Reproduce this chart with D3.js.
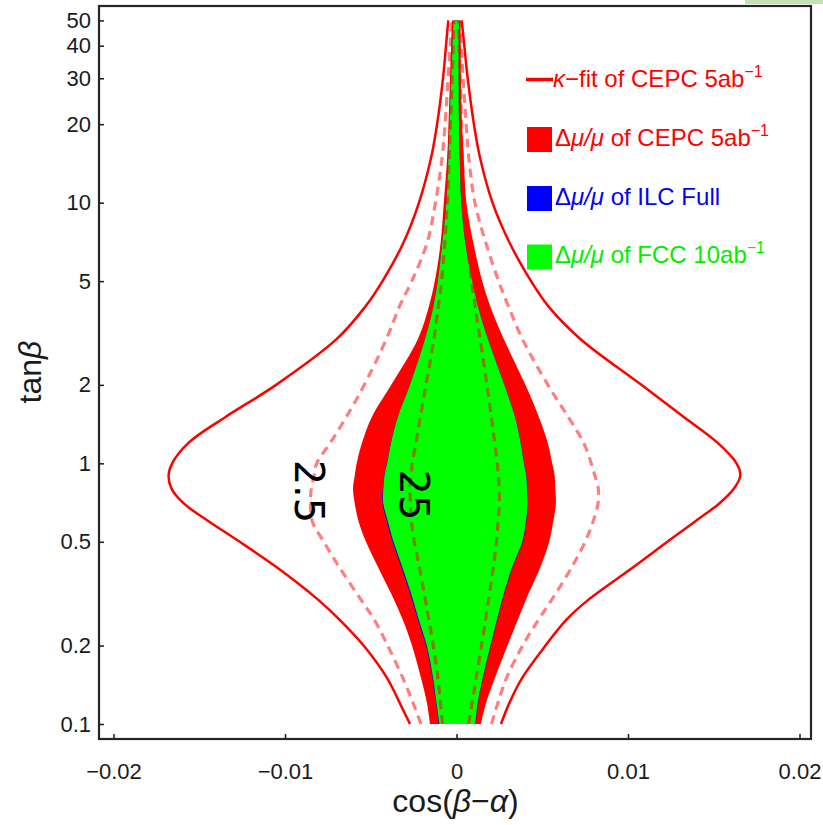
<!DOCTYPE html>
<html>
<head>
<meta charset="utf-8">
<script src="https://cdn.jsdelivr.net/npm/d3@7"></script>
<style>
  html, body { margin: 0; padding: 0; background: #ffffff; }
  svg { display: block; }
</style>
</head>
<body>
<div id="chart"></div>
<script>
// ---------------- data ----------------
const tanb = [0.1, 0.12, 0.15, 0.2, 0.25, 0.3, 0.4, 0.5, 0.6, 0.7, 0.8, 0.9, 1, 1.2, 1.5, 2, 3, 4, 5, 7, 10, 15, 20, 30, 40, 50];

// kappa-fit of CEPC 5ab^-1 (outer solid contour)
const kfitLeft  = [-0.002711,-0.003300,-0.004047,-0.005417,-0.006781,-0.008076,-0.010501,-0.012641,-0.014455,-0.015889,-0.016618,-0.016787,-0.016577,-0.015615,-0.013510,-0.010519,-0.006980,-0.005306,-0.004315,-0.003102,-0.002187,-0.001469,-0.001131,-0.000787,-0.000612,-0.000478];
const kfitRight = [0.002595,0.003073,0.003819,0.005190,0.006373,0.007697,0.010321,0.012292,0.013930,0.015306,0.016181,0.016548,0.016327,0.015213,0.013289,0.010781,0.007219,0.005359,0.004344,0.003102,0.002099,0.001359,0.001015,0.000653,0.000455,0.000303];

// dashed contour labelled "2.5"
const k2p5Left  = [-0.002070,-0.002525,-0.003125,-0.004012,-0.004776,-0.005574,-0.006840,-0.007738,-0.008414,-0.008513,-0.008466,-0.008297,-0.008152,-0.007353,-0.006443,-0.005376,-0.004087,-0.003324,-0.002606,-0.001720,-0.001224,-0.000834,-0.000665,-0.000490,-0.000367,-0.000268];
const k2p5Right = [0.002041,0.002402,0.002915,0.003860,0.004758,0.005557,0.006723,0.007499,0.007971,0.008245,0.008268,0.008064,0.007854,0.007411,0.006531,0.005329,0.003837,0.003032,0.002455,0.001714,0.001073,0.000711,0.000566,0.000385,0.000280,0.000198];

// dashed contour labelled "25"
const k25Left  = [-0.000810,-0.000933,-0.001085,-0.001353,-0.001603,-0.001819,-0.002163,-0.002461,-0.002624,-0.002682,-0.002706,-0.002647,-0.002577,-0.002367,-0.002111,-0.001778,-0.001312,-0.001055,-0.000875,-0.000682,-0.000536,-0.000426,-0.000350,-0.000251,-0.000192,-0.000146];
const k25Right = [0.000700,0.000904,0.001149,0.001458,0.001691,0.001872,0.002152,0.002327,0.002426,0.002496,0.002490,0.002437,0.002379,0.002227,0.002041,0.001778,0.001376,0.001090,0.000875,0.000636,0.000449,0.000338,0.000292,0.000222,0.000163,0.000117];

// Δμ/μ of CEPC 5ab^-1 (red region)
const cepcLeft  = [-0.001545,-0.001720,-0.002070,-0.002595,-0.003120,-0.003644,-0.004577,-0.005277,-0.005714,-0.005930,-0.006035,-0.005930,-0.005819,-0.005510,-0.004950,-0.003802,-0.002251,-0.001609,-0.001265,-0.000927,-0.000741,-0.000542,-0.000466,-0.000379,-0.000315,-0.000262];
const cepcRight = [0.001429,0.001720,0.002239,0.002974,0.003563,0.004052,0.004892,0.005405,0.005644,0.005796,0.005761,0.005720,0.005580,0.005318,0.004810,0.004017,0.002758,0.001971,0.001499,0.000985,0.000577,0.000420,0.000327,0.000257,0.000245,0.000233];

// Δμ/μ of ILC Full (blue region)
const ilcLeft  = [-0.001020,-0.001195,-0.001400,-0.001775,-0.002240,-0.002590,-0.003220,-0.003730,-0.004060,-0.004310,-0.004300,-0.004220,-0.004065,-0.003830,-0.003435,-0.002720,-0.001840,-0.001350,-0.001092,-0.000830,-0.000590,-0.000473,-0.000409,-0.000310,-0.000234,-0.000176];
const ilcRight = [0.001110,0.001255,0.001550,0.002010,0.002380,0.002690,0.003280,0.003865,0.004070,0.004170,0.004125,0.004075,0.003940,0.003745,0.003420,0.002790,0.001833,0.001250,0.000916,0.000514,0.000281,0.000188,0.000147,0.000129,0.000135,0.000147];

// Δμ/μ of FCC 10ab^-1 (green region)
const fccLeft  = [-0.000991,-0.001166,-0.001364,-0.001732,-0.002192,-0.002536,-0.003160,-0.003673,-0.004006,-0.004268,-0.004268,-0.004198,-0.004047,-0.003819,-0.003429,-0.002717,-0.001837,-0.001347,-0.001090,-0.000828,-0.000589,-0.000472,-0.000408,-0.000309,-0.000233,-0.000175];
const fccRight = [0.001096,0.001236,0.001528,0.001983,0.002350,0.002659,0.003248,0.003837,0.004047,0.004152,0.004111,0.004064,0.003930,0.003738,0.003417,0.002787,0.001831,0.001248,0.000915,0.000513,0.000280,0.000187,0.000146,0.000128,0.000134,0.000146];

const xTicks = [-0.02, -0.01, 0, 0.01, 0.02];
const xTickLabels = ["\u22120.02", "\u22120.01", "0", "0.01", "0.02"];
const yTicks = [0.1, 0.2, 0.5, 1, 2, 5, 10, 20, 30, 40, 50];
const yTickLabels = ["0.1", "0.2", "0.5", "1", "2", "5", "10", "20", "30", "40", "50"];

const contourLabels = ["2.5", "25"];
const contourLabelPos = [[-0.0086, 0.78], [-0.00248, 0.756]]; // [cos(β−α), tanβ]

// ---------------- layout ----------------
const W = 823, H = 825;
const plot = { left: 99, right: 811, top: 6, bottom: 739 };

const svg = d3.select("#chart").append("svg")
  .attr("width", W).attr("height", H)
  .style("font-family", "'Liberation Sans', Arial, Helvetica, sans-serif");

// decorative slide strip at top-right
svg.append("rect").attr("x", 745).attr("y", 0).attr("width", 78).attr("height", 4)
  .attr("fill", "#c5e0b4");

const x = d3.scaleLinear().domain([-0.020845, 0.02067]).range([plot.left, plot.right]);
const y = d3.scaleLog().domain([0.0876, 56.8]).range([plot.bottom, plot.top]);

svg.append("defs").append("clipPath").attr("id", "clip")
  .append("rect").attr("x", plot.left).attr("y", plot.top)
  .attr("width", plot.right - plot.left).attr("height", plot.bottom - plot.top);

const g = svg.append("g").attr("clip-path", "url(#clip)");

const rows = (L, R) => tanb.map((t, i) => ({ t, l: L[i], r: R[i] }));
const curve = d3.curveCatmullRom.alpha(0.5);

const area = d3.area().y(d => y(d.t)).x0(d => x(d.l)).x1(d => x(d.r)).curve(curve);
const lineL = d3.line().y(d => y(d.t)).x(d => x(d.l)).curve(curve);
const lineR = d3.line().y(d => y(d.t)).x(d => x(d.r)).curve(curve);

// outer kappa-fit contour
const kfit = rows(kfitLeft, kfitRight);
[lineL, lineR].forEach(fn => g.append("path").attr("d", fn(kfit))
  .attr("fill", "none").attr("stroke", "#ff0000").attr("stroke-width", 2.5));

// dashed 2.5 contour
const k2p5 = rows(k2p5Left, k2p5Right);
[lineL, lineR].forEach(fn => g.append("path").attr("d", fn(k2p5))
  .attr("fill", "none").attr("stroke", "#ff0000").attr("stroke-opacity", 0.5)
  .attr("stroke-width", 3.2).attr("stroke-dasharray", "9,6"));

// filled regions
g.append("path").attr("d", area(rows(cepcLeft, cepcRight))).attr("fill", "#ff0000");
g.append("path").attr("d", area(rows(ilcLeft, ilcRight))).attr("fill", "#0000ff");
g.append("path").attr("d", area(rows(fccLeft, fccRight))).attr("fill", "#00ff00");

// dashed 25 contour
const k25 = rows(k25Left, k25Right);
[lineL, lineR].forEach(fn => g.append("path").attr("d", fn(k25))
  .attr("fill", "none").attr("stroke", "#ff0000").attr("stroke-opacity", 0.5)
  .attr("stroke-width", 3.2).attr("stroke-dasharray", "9,6"));

// contour labels (rotated)
contourLabels.forEach((lab, i) => {
  const px = x(contourLabelPos[i][0]), py = y(contourLabelPos[i][1]);
  svg.append("text").text(lab)
    .attr("transform", `translate(${px},${py}) rotate(90)`)
    .attr("text-anchor", "middle").attr("dominant-baseline", "central")
    .style("font-family", "'DejaVu Sans', sans-serif").style("font-size", "40px")
    .attr("fill", "#000");
});

// ---------------- axes ----------------
const axisColor = "#1a1a1a";
const yAxis = d3.axisLeft(y).tickValues(yTicks)
  .tickFormat((d, i) => yTickLabels[i]).tickSize(-5).tickPadding(8);
const gy = svg.append("g").attr("transform", `translate(${plot.left},0)`).call(yAxis);

const xAxis = d3.axisBottom(x).tickValues(xTicks)
  .tickFormat((d, i) => xTickLabels[i]).tickSize(-5).tickPadding(24);
const gx = svg.append("g").attr("transform", `translate(0,${plot.bottom})`).call(xAxis);

[gx, gy].forEach(a => {
  a.select(".domain").remove();
  a.selectAll(".tick line").attr("stroke", axisColor).attr("stroke-width", 1.5);
  a.selectAll(".tick text").attr("fill", axisColor)
    .style("font-size", "22px").style("font-family", "'Liberation Sans', Arial, sans-serif");
});

// frame
svg.append("rect").attr("x", plot.left).attr("y", plot.top)
  .attr("width", plot.right - plot.left).attr("height", plot.bottom - plot.top)
  .attr("fill", "none").attr("stroke", "#262626").attr("stroke-width", 2.2);

// axis titles
const xt = svg.append("text").attr("x", (plot.left + plot.right) / 2 + 0.5).attr("y", 812)
  .attr("text-anchor", "middle").style("font-size", "32px").attr("fill", axisColor);
xt.append("tspan").text("cos(");
xt.append("tspan").style("font-style", "italic").text("\u03b2");
xt.append("tspan").text("\u2212");
xt.append("tspan").style("font-style", "italic").text("\u03b1");
xt.append("tspan").text(")");

const yt = svg.append("text").attr("transform", "translate(41,372) rotate(-90)")
  .attr("text-anchor", "middle").style("font-size", "32px").attr("fill", axisColor);
yt.append("tspan").text("tan");
yt.append("tspan").style("font-style", "italic").text("\u03b2");

// ---------------- legend ----------------
const legendNames = ["CEPC 5ab", "CEPC 5ab", "ILC Full", "FCC 10ab"];
const legendSup = ["\u22121", "\u22121", "", "\u22121"];
const legendColors = ["#ff0000", "#ff0000", "#0000ff", "#00ee00"];
const legendSwatch = ["#ff0000", "#ff0000", "#0000ff", "#00ff00"];
const legendKind = ["line", "box", "box", "box"];
const legendY = [79.5, 139.5, 198.5, 257];

legendNames.forEach((name, i) => {
  const cy = legendY[i];
  if (legendKind[i] === "line") {
    svg.append("line").attr("x1", 526).attr("x2", 553).attr("y1", cy).attr("y2", cy)
      .attr("stroke", legendSwatch[i]).attr("stroke-width", 3.5);
  } else {
    svg.append("rect").attr("x", 527).attr("y", cy - 12.5).attr("width", 25).attr("height", 25)
      .attr("fill", legendSwatch[i]);
  }
  const t = svg.append("text").attr("x", legendKind[i] === "line" ? 553 : 555)
    .attr("y", cy + (legendKind[i] === "line" ? 7.4 : 6.3))
    .style("font-size", "24px").attr("fill", legendColors[i]);
  if (legendKind[i] === "line") {
    t.append("tspan").style("font-style", "italic").text("\u03ba");
    t.append("tspan").text("\u2212fit of " + name);
  } else {
    t.append("tspan").text("\u0394");
    t.append("tspan").style("font-style", "italic").text("\u03bc/\u03bc");
    t.append("tspan").text(" of " + name);
  }
  if (legendSup[i]) {
    t.append("tspan").attr("dy", -10).style("font-size", "16px").text(legendSup[i]);
  }
});
</script>
</body>
</html>
